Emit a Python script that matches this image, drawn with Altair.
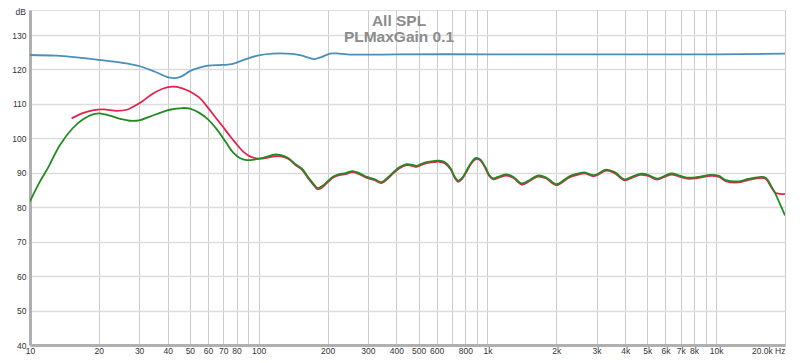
import altair as alt
import pandas as pd

# ---- data ----
blue_f = [10, 13, 16, 20, 25, 30, 35, 40, 43, 46, 50, 55, 60, 70, 77, 88, 100, 115, 140, 155, 165,
          175, 188, 205, 225, 260, 400, 1000, 2000, 5000, 10000, 20000]
blue_db = [124.2, 124.0, 123.5, 122.8, 122.0, 121.0, 119.4, 117.8, 117.5, 118.0, 119.5, 120.5, 121.1,
           121.3, 121.6, 123.0, 124.1, 124.6, 124.5, 124.0, 123.4, 123.0, 123.6, 124.6, 124.6, 124.3,
           124.4, 124.4, 124.4, 124.4, 124.4, 124.6]

red_f = [15.2, 17, 19, 21, 24, 26.5, 28.5, 31, 34.5, 38, 42, 46, 50, 55, 59, 64, 69.5, 75, 80, 86, 92,
         100, 108, 117, 125, 135, 145, 155, 165, 175, 181, 190, 200, 212, 225, 240, 257, 275, 297, 320,
         344, 365, 384, 410, 443, 470, 489, 515, 543, 580, 615, 650, 690, 720, 745, 775, 810, 850, 890,
         930, 980, 1020, 1060, 1120, 1210, 1300, 1410, 1530, 1660, 1800, 2000, 2150, 2270, 2500, 2660,
         2930, 3300, 3600, 3980, 4300, 4660, 5000, 5530, 5900, 6360, 6900, 7440, 8190, 9500, 10300,
         11000, 12500, 13800, 15800, 16500, 17500, 18200, 19000, 20000]
red_db = [105.8, 107.3, 108.2, 108.4, 108.0, 108.3, 109.3, 110.8, 113.0, 114.4, 115.0, 114.6, 113.6,
          111.8, 109.5, 106.5, 103.5, 100.6, 98.3, 96.0, 94.7, 94.1, 94.3, 94.8, 94.8, 94.0, 92.2, 90.8,
          88.3, 86.2, 85.2, 85.8, 87.2, 88.6, 89.3, 89.6, 90.2, 89.6, 88.5, 87.9, 87.0, 88.2, 89.6, 91.2,
          92.2, 92.0, 91.7, 92.3, 92.8, 93.1, 93.2, 92.8, 91.0, 88.5, 87.4, 88.2, 90.3, 92.7, 94.0, 93.6,
          91.3, 89.0, 88.1, 88.6, 89.2, 88.5, 86.6, 87.6, 88.9, 88.4, 86.4, 87.5, 88.6, 89.5, 89.8, 89.0,
          90.6, 89.9, 87.8, 88.6, 89.4, 89.2, 88.0, 88.7, 89.5, 88.9, 88.3, 88.4, 89.1, 88.8, 87.6, 87.2,
          87.9, 88.5, 88.2, 85.6, 84.1, 83.9, 83.8]

green_f = [10, 11, 12, 13.5, 15.4, 17, 19, 20.5, 22.3, 25, 27.3, 30, 33.4, 37, 40.8, 46.6, 50, 55, 60,
           65.6, 72, 77.2, 83, 88.6, 95, 101, 110, 117, 125, 135, 145, 155, 165, 175, 181, 190, 200, 212,
           225, 240, 257, 275, 297, 320, 344, 365, 384, 410, 443, 470, 489, 515, 543, 580, 615, 650, 690,
           720, 745, 775, 810, 850, 890, 930, 980, 1020, 1060, 1120, 1210, 1300, 1410, 1530, 1660, 1800,
           2000, 2150, 2270, 2500, 2660, 2930, 3300, 3600, 3980, 4300, 4660, 5000, 5530, 5900, 6360,
           6900, 7440, 8190, 9500, 10300, 11000, 12500, 13800, 15800, 16500, 17500, 18200, 19000, 20000]
green_db = [81.7, 87.2, 91.5, 98.0, 103.0, 105.5, 107.0, 107.2, 106.6, 105.6, 105.1, 105.2, 106.3,
            107.4, 108.3, 108.8, 108.6, 107.4, 105.5, 102.6, 98.8, 95.9, 94.2, 93.7, 93.8, 94.1, 94.8,
            95.3, 95.1, 94.2, 92.5, 91.1, 88.6, 86.5, 85.6, 86.2, 87.5, 88.9, 89.6, 89.9, 90.5, 89.9,
            88.8, 88.2, 87.3, 88.5, 89.9, 91.5, 92.5, 92.3, 92.0, 92.6, 93.1, 93.4, 93.5, 93.1, 91.3,
            88.8, 87.7, 88.5, 90.6, 93.0, 94.3, 93.9, 91.6, 89.3, 88.4, 88.9, 89.5, 88.8, 86.9, 87.9,
            89.2, 88.7, 86.7, 87.8, 88.9, 89.8, 90.1, 89.3, 90.9, 90.2, 88.1, 88.9, 89.7, 89.5, 88.3,
            89.0, 89.8, 89.2, 88.6, 88.7, 89.4, 89.1, 87.9, 87.5, 88.2, 88.8, 88.5, 85.9, 83.8, 81.0, 77.6]

x_ticks = [10, 20, 30, 40, 50, 60, 70, 80, 90, 100, 200, 300, 400, 500, 600, 700, 800, 900,
           1000, 2000, 3000, 4000, 5000, 6000, 7000, 8000, 9000, 10000, 20000]
x_labels = ["10", "20", "30", "40", "50", "60", "70", "80", "", "100", "200", "300", "400", "500",
            "600", "", "800", "", "1k", "2k", "3k", "4k", "5k", "6k", "7k", "8k", "", "10k", "20.0k Hz"]
y_ticks = [40, 50, 60, 70, 80, 90, 100, 110, 120, 130]

title_lines = ["All SPL", "PLMaxGain 0.1"]
y_unit = "dB"

BLUE = "#4a8fba"
RED = "#e6224c"
GREEN = "#238a23"
FONT = "Liberation Sans"

label_expr = ("[" + ",".join("'%s'" % s for s in x_labels) + "][indexof(["
              + ",".join(str(v) for v in x_ticks) + "], datum.value)]")

x_scale = alt.Scale(type="log", domain=[10, 20000], nice=False)
y_scale = alt.Scale(domain=[40, 137.26], nice=False, zero=False)

x_axis = alt.Axis(values=x_ticks, labelExpr=label_expr, title=None, grid=True, gridColor="#cccccc",
                  gridWidth=1, ticks=False, labelPadding=1, labelFontSize=8.5, labelColor="#333333",
                  labelFont=FONT, domainColor="#b0b0b0", domainWidth=3, labelOverlap=False,
                  labelFlush=False,
                  labelAlign=alt.expr("datum.value >= 20000 ? 'right' : 'center'"))
y_axis = alt.Axis(values=y_ticks, title=None, grid=True, gridColor="#dcdcdc", gridWidth=1.5,
                  ticks=False, labelPadding=4, labelFontSize=8.5, labelColor="#333333", labelFont=FONT,
                  domainColor="#b0b0b0", domainWidth=3)


def line(f, db, color):
    df = pd.DataFrame({"f": f, "db": db})
    return alt.Chart(df).mark_line(color=color, strokeWidth=1.8, interpolate="catmull-rom", clip=True).encode(
        x=alt.X("f:Q", scale=x_scale, axis=x_axis),
        y=alt.Y("db:Q", scale=y_scale, axis=y_axis),
    )


blue = line(blue_f, blue_db, BLUE)
red = line(red_f, red_db, RED)
green = line(green_f, green_db, GREEN)

tdf = pd.DataFrame({"t": title_lines})
title1 = alt.Chart(tdf.iloc[[0]]).mark_text(font=FONT, fontSize=15.5, fontWeight="bold", color="#8c8c8c",
                                             align="center", baseline="middle").encode(
    text="t:N", x=alt.value(369), y=alt.value(11))
title2 = alt.Chart(tdf.iloc[[1]]).mark_text(font=FONT, fontSize=15.5, fontWeight="bold", color="#8c8c8c",
                                             align="center", baseline="middle").encode(
    text="t:N", x=alt.value(369), y=alt.value(27))
unit = alt.Chart(pd.DataFrame({"t": [y_unit]})).mark_text(font=FONT, fontSize=8.5, color="#333333",
                                                          align="right", baseline="top").encode(
    text="t:N", x=alt.value(-4), y=alt.value(-2))

chart = alt.layer(blue, red, green, title1, title2, unit).properties(
    width=755, height=335,
    autosize=alt.AutoSizeParams(type="none"),
    padding={"left": 22, "top": 2, "right": 7, "bottom": 10},
).configure_view(stroke="#c8c8c8", strokeWidth=2).configure(background="white")

chart.save("out.html", embed_options={"renderer": "svg", "actions": False})
